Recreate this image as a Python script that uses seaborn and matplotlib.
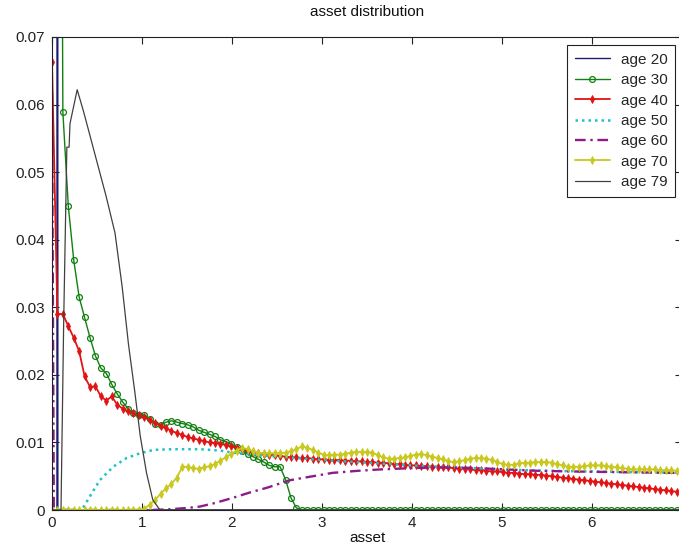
# -*- coding: utf-8 -*-
"""asset distribution by age"""
import numpy as np
import matplotlib
matplotlib.use("Agg")
import matplotlib.pyplot as plt
import seaborn as sns

sns.set_theme(style="ticks")
plt.rcParams["font.family"] = ["Liberation Sans", "DejaVu Sans"]

# common asset grid used by the series that carry markers
asset_grid = np.linspace(0, 7, 117)

age20_x = [0.0, 0.055, 0.06, 0.065, 7.0]
age20_y = [0.0, 0.0, 0.5, 0.0, 0.0]

age30_y = [0.25, 0.25, 0.0589, 0.045, 0.037, 0.0315, 0.0285, 0.0255, 0.0228, 0.021,
           0.0202, 0.0186, 0.0172, 0.016, 0.015, 0.0143, 0.014, 0.0141, 0.0135, 0.0128,
           0.0126, 0.013, 0.0132, 0.013, 0.0128, 0.0126, 0.0123, 0.0118, 0.0115, 0.0112,
           0.0109, 0.0104, 0.0101, 0.0098, 0.0093, 0.0088, 0.0083, 0.0079, 0.0075, 0.0071,
           0.0066, 0.0064, 0.0064, 0.0045, 0.0018, 0.0003] + [0.0] * 71

age40_y = [0.0663, 0.029, 0.029, 0.0272, 0.0255, 0.0235, 0.0198, 0.0182, 0.0183, 0.0168,
           0.0162, 0.0168, 0.0156, 0.015, 0.0146, 0.0143, 0.014, 0.0137, 0.0133, 0.0129,
           0.0125, 0.0121, 0.0117, 0.0114, 0.0111, 0.0108, 0.0106, 0.0104, 0.0102, 0.01,
           0.0099, 0.0098, 0.0096, 0.0094, 0.0092, 0.009, 0.0088, 0.0086, 0.0084, 0.0083,
           0.0082, 0.0081, 0.008, 0.0079, 0.0078, 0.0078, 0.0077, 0.0077, 0.0076, 0.0075,
           0.0075, 0.0074, 0.0074, 0.0074, 0.0073, 0.0073, 0.0072, 0.0072, 0.0071, 0.0071,
           0.007, 0.007, 0.0069, 0.0068, 0.0068, 0.0067, 0.0066, 0.0066, 0.0065, 0.0065,
           0.0064, 0.0064, 0.0063, 0.0063, 0.0062, 0.0061, 0.0061, 0.006, 0.0059, 0.0059,
           0.0058, 0.0057, 0.0057, 0.0056, 0.0055, 0.0055, 0.0054, 0.0053, 0.0053, 0.0052,
           0.0052, 0.0051, 0.005, 0.0049, 0.0048, 0.0047, 0.0046, 0.0045, 0.0044, 0.0043,
           0.0042, 0.0041, 0.004, 0.0039, 0.0038, 0.0037, 0.0036, 0.0035, 0.0034, 0.0033,
           0.0032, 0.0031, 0.003, 0.0029, 0.0028, 0.0027, 0.0026]

age50_x = [0.0, 0.33, 0.43, 0.53, 0.68, 0.83, 0.98, 1.13, 1.35, 1.64, 1.87, 2.0,
           2.3, 2.6, 3.0, 3.5, 4.0, 4.5, 5.0, 5.5, 6.0, 6.5, 7.0]
age50_y = [0.0, 0.0, 0.0022, 0.0044, 0.0064, 0.0077, 0.0084, 0.0089, 0.009, 0.009, 0.0088, 0.0085,
           0.0081, 0.0078, 0.0074, 0.007, 0.0066, 0.0063, 0.006, 0.0058, 0.0057, 0.0056, 0.0055]

age60_x = [0.0, 0.02, 1.1, 1.3, 1.5, 1.64, 1.8, 2.01, 2.2, 2.39, 2.64, 2.9, 3.12, 3.4,
           3.64, 4.0, 4.3, 4.7, 5.05, 5.4, 5.8, 6.3, 6.9, 7.0]
age60_y = [0.0617, 0.0, 0.0, 0.0001, 0.0003, 0.0005, 0.001, 0.0018, 0.0026, 0.0033, 0.0044, 0.005,
           0.0055, 0.0058, 0.006, 0.0062, 0.0063, 0.0062, 0.006, 0.0058, 0.0057, 0.0056, 0.0055, 0.0055]

age70_y = [0.0] * 17 + [
           0.0002, 0.0008, 0.0015, 0.0024, 0.0032, 0.0039, 0.0048, 0.0064, 0.0064, 0.0062,
           0.0061, 0.0063, 0.0065, 0.0068, 0.0073, 0.0078, 0.0083, 0.0088, 0.0092, 0.009,
           0.0087, 0.0085, 0.0084, 0.0084, 0.0084, 0.0084, 0.0085, 0.0087, 0.009, 0.0094,
           0.0092, 0.0089, 0.0085, 0.0082, 0.0081, 0.0082, 0.0082, 0.0083, 0.0085, 0.0086,
           0.0086, 0.0086, 0.0085, 0.0081, 0.0078, 0.0076, 0.0076, 0.0077, 0.0078, 0.008,
           0.0082, 0.0083, 0.0081, 0.0079, 0.0077, 0.0075, 0.0072, 0.0071, 0.0072, 0.0074,
           0.0076, 0.0077, 0.0077, 0.0076, 0.0074, 0.0071, 0.0068, 0.0067, 0.0067, 0.0069,
           0.007, 0.007, 0.0071, 0.0071, 0.0071, 0.007, 0.0068, 0.0066, 0.0064, 0.0064,
           0.0064, 0.0065, 0.0066, 0.0066, 0.0066, 0.0065, 0.0064, 0.0063, 0.0062, 0.0061,
           0.006, 0.006, 0.006, 0.006, 0.006, 0.0059, 0.0059, 0.0059, 0.0058, 0.0058]

age79_x = [0.0, 0.1, 0.13, 0.165, 0.19, 0.2, 0.28, 0.35, 0.42, 0.5, 0.6, 0.7, 0.78,
           0.85, 0.92, 0.98, 1.05, 1.12, 1.2, 7.0]
age79_y = [0.0, 0.0, 0.028, 0.0537, 0.0537, 0.0572, 0.0622, 0.059, 0.0555, 0.0515, 0.0465, 0.041, 0.033,
           0.0245, 0.0175, 0.011, 0.0055, 0.0015, 0.0, 0.0]

x_ticks = [0, 1, 2, 3, 4, 5, 6, 7]
y_ticks = [0, 0.01, 0.02, 0.03, 0.04, 0.05, 0.06, 0.07]
y_tick_labels = ["0", "0.01", "0.02", "0.03", "0.04", "0.05", "0.06", "0.07"]


def main():
    fig = plt.figure(figsize=(6.79, 5.55), dpi=100)
    ax = fig.add_axes([52 / 679, 45 / 555, 630 / 679, 473 / 555])

    common = dict(ax=ax, estimator=None, sort=False)
    sns.lineplot(x=age20_x, y=age20_y, color="#1c1c6c", lw=1.0, label="age 20", **common)
    sns.lineplot(x=asset_grid, y=age30_y, color="#108010", lw=1.0, marker="o", ms=4.2,
                 mfc="none", mec="#108010", mew=0.9, label="age 30", **common)
    sns.lineplot(x=asset_grid, y=age40_y, color="#e01414", lw=1.3, marker="d", ms=4.0,
                 mfc="#e01414", mec="#e01414", mew=0.6, label="age 40", **common)
    sns.lineplot(x=age50_x, y=age50_y, color="#20c0c8", lw=1.8, linestyle=(0, (1, 1.6)),
                 label="age 50", **common)
    sns.lineplot(x=age60_x, y=age60_y, color="#8c1c8c", lw=1.7, linestyle=(0, (4.5, 2, 1, 2)),
                 label="age 60", **common)
    sns.lineplot(x=asset_grid, y=age70_y, color="#c8c81e", lw=1.3, marker="d", ms=4.0,
                 mfc="#c8c81e", mec="#c8c81e", mew=0.6, label="age 70", **common)
    sns.lineplot(x=age79_x, y=age79_y, color="#404040", lw=0.9, label="age 79", **common)

    ax.set_xlim(0, 7)
    ax.set_ylim(0, 0.07)
    ax.set_xticks(x_ticks)
    ax.set_xticklabels([str(t) for t in x_ticks])
    ax.set_yticks(y_ticks)
    ax.set_yticklabels(y_tick_labels)
    ax.tick_params(direction="in", top=True, right=True, length=5, width=0.8,
                   labelsize=11, colors="#222222")
    ax.tick_params(axis="y", pad=5)
    ax.tick_params(axis="x", pad=4)
    for sp in ax.spines.values():
        sp.set_color("#222222")
        sp.set_linewidth(0.8)
        sp.set_visible(True)

    ax.set_title("asset distribution", fontsize=11, pad=15, color="#111111")
    ax.set_xlabel("asset", fontsize=11, labelpad=1, color="#111111")
    ax.set_ylabel("")

    leg = ax.legend(loc="upper right", bbox_to_anchor=(0.989, 0.983), borderaxespad=0,
                    fontsize=11, frameon=True, fancybox=False, framealpha=1,
                    edgecolor="#222222", labelspacing=0.42, handlelength=2.3,
                    handletextpad=0.7, borderpad=0.5)
    leg.get_frame().set_linewidth(0.8)

    fig.savefig("out.png", dpi=100, facecolor="white")
    plt.close(fig)


if __name__ == "__main__":
    main()
